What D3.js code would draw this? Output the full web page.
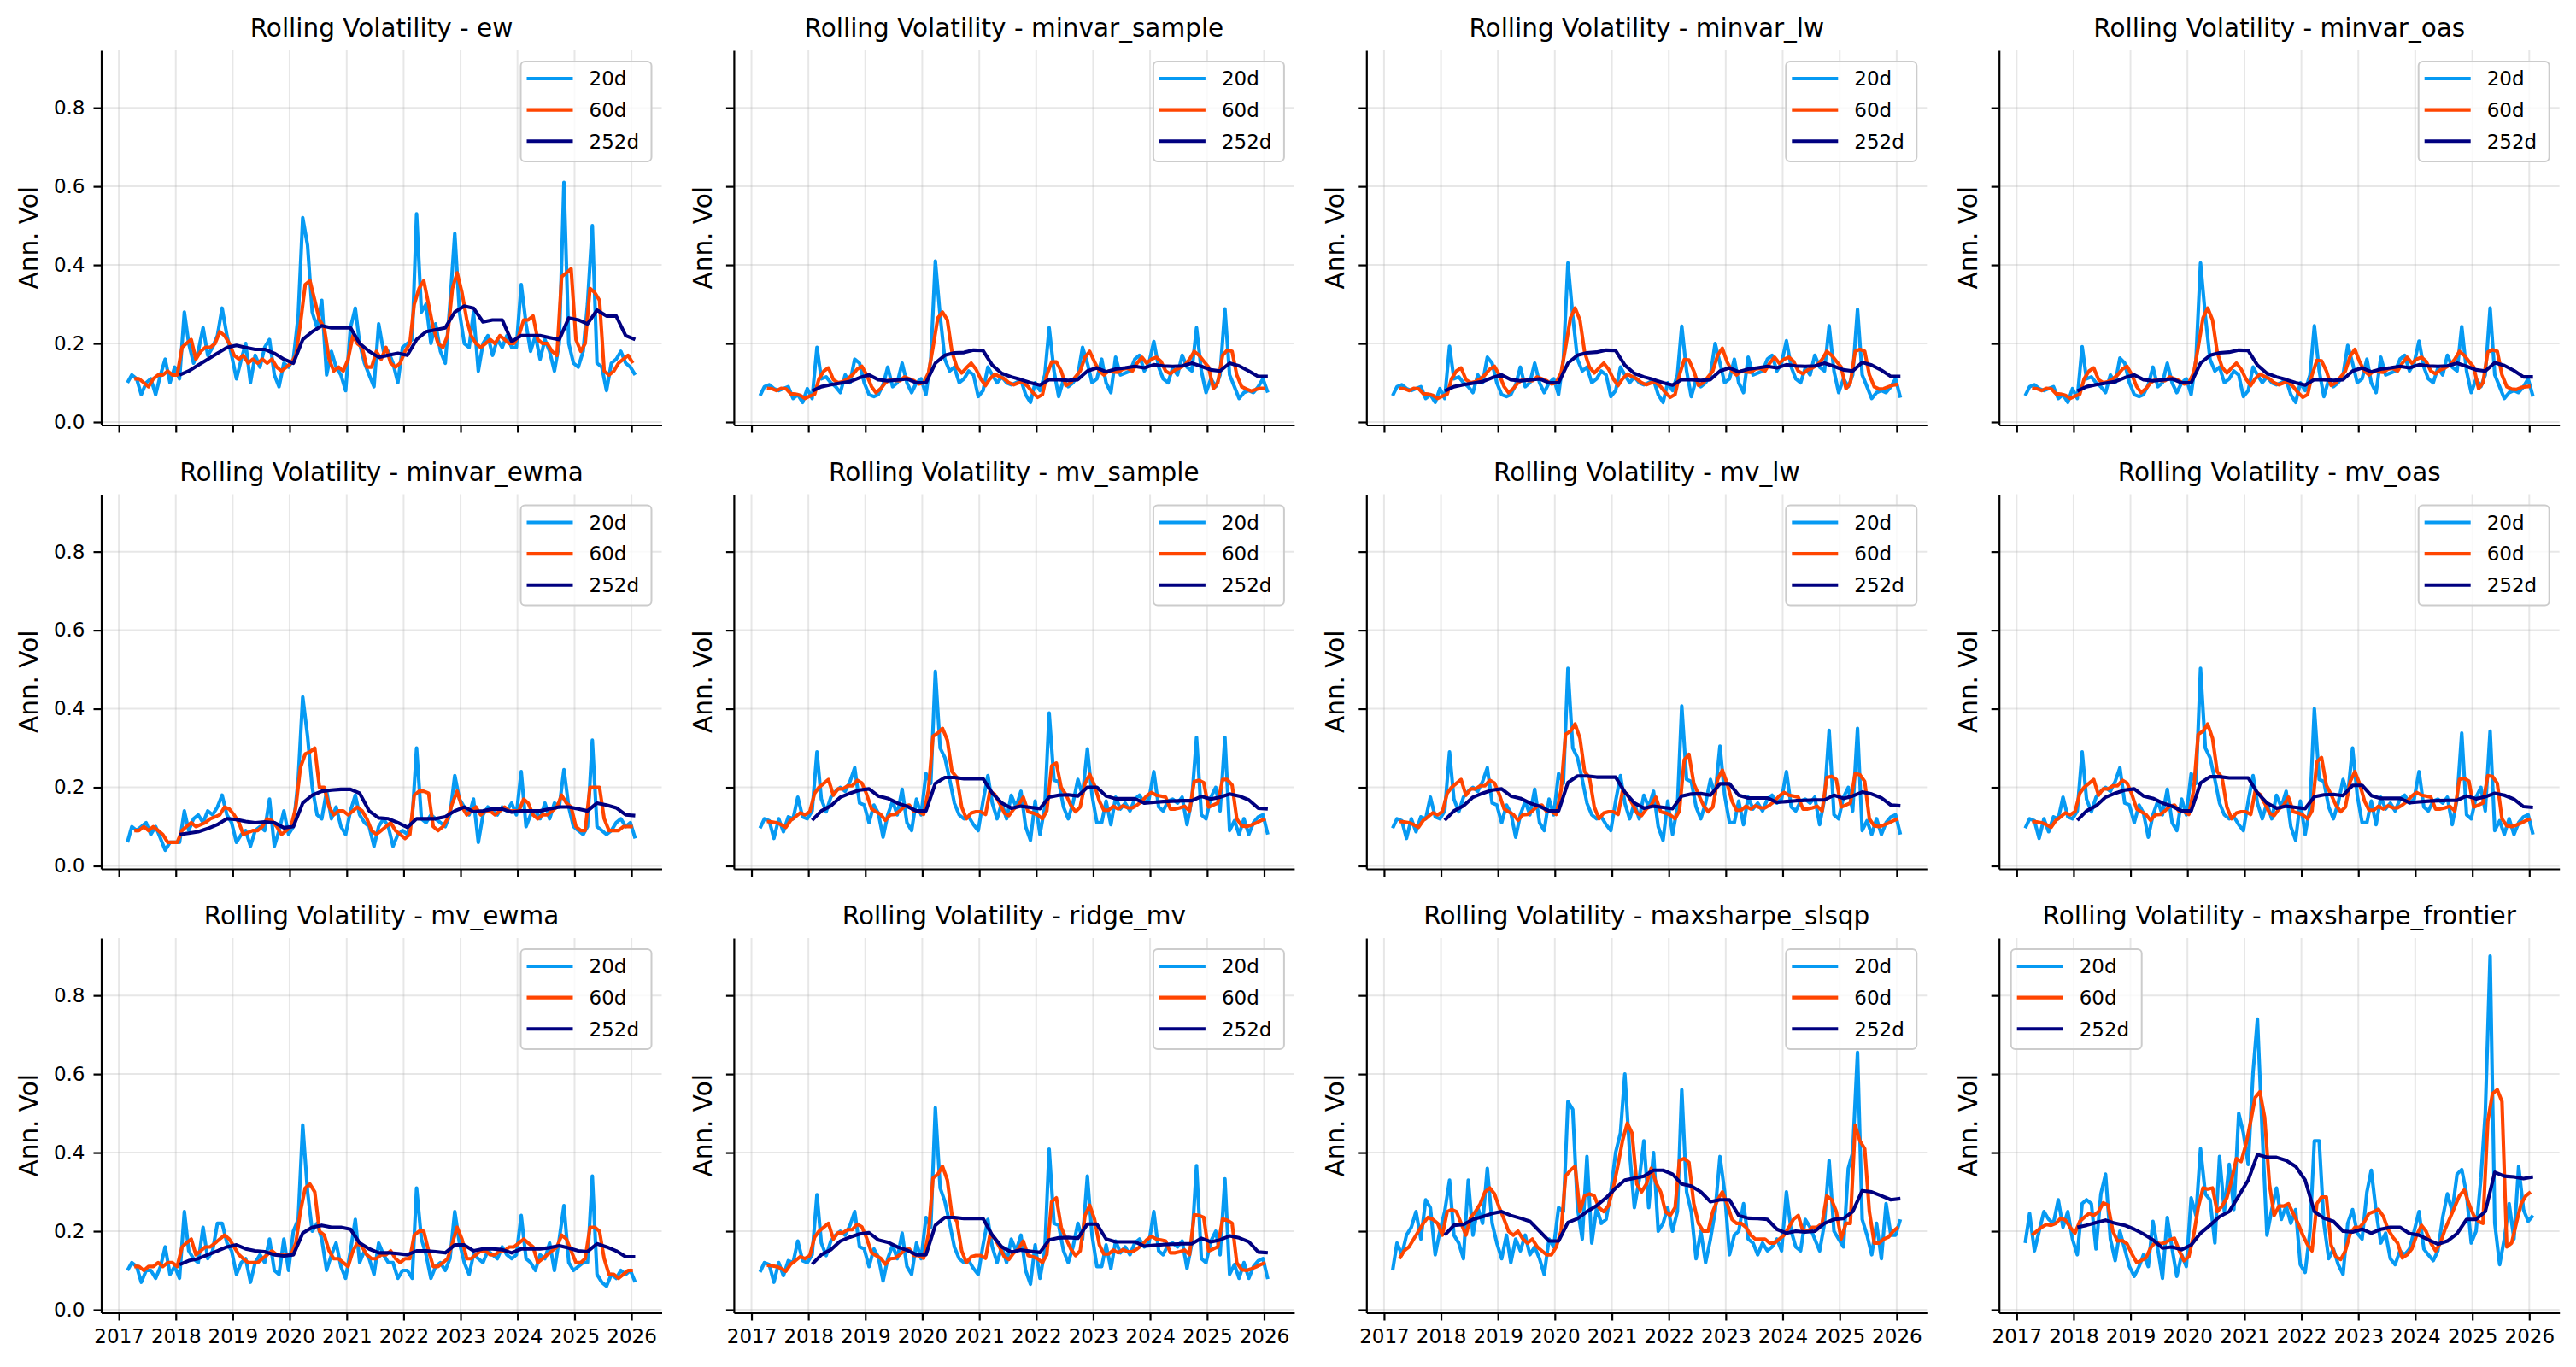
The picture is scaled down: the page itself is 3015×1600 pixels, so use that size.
<!DOCTYPE html>
<html>
<head>
<meta charset="utf-8">
<script src="https://cdn.jsdelivr.net/npm/d3@7"></script>
<style>
  html, body { margin: 0; background: #fff; }
  svg { display: block; }
</style>
</head>
<body>
<svg id="fig" width="3015" height="1600"></svg>
<script>
// Panel names (row by row) and legend entries
const STRATEGIES = ['ew', 'minvar_sample', 'minvar_lw', 'minvar_oas',
                    'minvar_ewma', 'mv_sample', 'mv_lw', 'mv_oas',
                    'mv_ewma', 'ridge_mv', 'maxsharpe_slsqp', 'maxsharpe_frontier'];
const WINDOWS = ['20d', '60d', '252d'];
const Y_TICKS = [0, 0.2, 0.4, 0.6, 0.8];
const X_LIMITS = [new Date(2016, 8, 10), new Date(2026, 6, 14)];
const Y_LIMITS = [-0.0076, 0.946];

// 20d: monthly from Feb 2017 to Jan 2026 (rows = calendar years)
// 60d: monthly from Apr 2017 to Jan 2026
// 252d: every two months from Jan 2018 to Jan 2026
const EW_20 = [
  .10,.12,.11,.07,.10,.11,.07,.12,.16,.10,.14,
  .11,.28,.20,.15,.18,.24,.17,.19,.22,.29,.22,.17,
  .11,.16,.20,.10,.17,.14,.19,.21,.12,.09,.15,.14,
  .16,.27,.52,.45,.28,.24,.31,.12,.18,.14,.12,.08,
  .24,.29,.20,.15,.12,.09,.25,.18,.18,.15,.10,.19,
  .20,.21,.53,.28,.30,.20,.25,.18,.15,.30,.48,.28,
  .20,.19,.28,.13,.20,.22,.17,.21,.19,.22,.19,.19,
  .35,.25,.18,.22,.16,.21,.18,.13,.20,.61,.20,.15,
  .14,.18,.30,.50,.15,.14,.08,.15,.16,.18,.15,.14,
  .12];
const EW_60 = [
  .11,.11,.10,.09,.11,.12,.12,.13,.12,
  .12,.19,.20,.21,.16,.18,.19,.19,.20,.23,.22,.20,
  .17,.16,.17,.15,.16,.15,.16,.15,.16,.14,.13,.14,
  .15,.17,.25,.35,.36,.31,.26,.24,.16,.13,.14,.13,
  .16,.22,.20,.19,.14,.14,.18,.16,.19,.15,.14,.15,
  .18,.20,.30,.34,.36,.30,.24,.20,.19,.22,.34,.38,
  .33,.26,.22,.20,.19,.20,.21,.20,.22,.21,.20,.20,
  .22,.26,.26,.27,.21,.20,.20,.18,.17,.37,.38,.39,
  .21,.18,.20,.34,.33,.31,.13,.12,.13,.15,.16,.17,
  .15];
const EW_252 = [
  .12,.13,.145,.16,.175,.19,
  .195,.19,.185,.185,.175,.16,
  .15,.21,.23,.245,.24,.24,
  .24,.20,.18,.165,.17,.175,
  .17,.21,.23,.235,.24,.28,
  .295,.29,.255,.26,.26,.205,
  .22,.22,.22,.215,.21,.265,
  .26,.25,.285,.27,.27,.22,
  .21];

const MINVAR_SAMPLE_20 = [
  .067,.09,.095,.085,.08,.085,.09,.06,.07,.05,.085,
  .06,.19,.11,.115,.10,.09,.075,.12,.10,.16,.15,.10,
  .07,.065,.07,.095,.14,.09,.10,.15,.10,.075,.10,.11,
  .07,.16,.41,.27,.16,.13,.14,.10,.11,.13,.12,.065,
  .08,.14,.12,.10,.115,.10,.095,.10,.108,.07,.05,.10,
  .08,.12,.24,.13,.065,.108,.09,.10,.12,.19,.15,.10,
  .11,.16,.10,.075,.165,.12,.125,.13,.16,.17,.13,.15,
  .205,.14,.11,.10,.138,.12,.17,.14,.13,.24,.13,.075,
  .11,.09,.12,.288,.12,.09,.06,.075,.08,.075,.09,.11,
  .075];
const MINVAR_SAMPLE_60 = [
  .086,.085,.08,.086,.085,.072,.071,.068,.06,
  .066,.071,.11,.13,.138,.108,.10,.103,.11,.12,.135,.142,
  .12,.09,.075,.085,.10,.108,.106,.105,.115,.11,.105,.097,
  .10,.125,.19,.265,.28,.26,.178,.14,.125,.138,.15,.135,
  .11,.093,.11,.122,.116,.11,.10,.095,.10,.10,.09,.075,
  .063,.07,.12,.153,.153,.13,.093,.10,.115,.13,.165,.18,
  .153,.13,.12,.13,.128,.127,.135,.137,.13,.15,.165,.15,
  .16,.165,.155,.13,.123,.133,.138,.145,.16,.18,.17,.155,
  .14,.085,.10,.17,.183,.18,.12,.09,.084,.079,.083,.086,
  .086];
const MINVAR_SAMPLE_252 = [
  .079,.09,.095,.099,.103,.113,
  .12,.108,.105,.107,.11,.10,
  .10,.15,.17,.176,.177,.183,
  .182,.145,.124,.115,.108,.10,
  .094,.108,.108,.106,.108,.13,
  .138,.128,.135,.138,.142,.138,
  .146,.143,.142,.143,.15,.142,
  .133,.13,.15,.143,.13,.116,
  .116];

const MINVAR_LW_20 = [
  .067,.09,.095,.085,.08,.085,.09,.06,.07,.05,.085,
  .06,.193,.11,.115,.10,.09,.075,.12,.10,.165,.15,.10,
  .07,.065,.07,.095,.14,.09,.10,.15,.10,.075,.10,.11,
  .07,.16,.405,.27,.16,.13,.14,.10,.11,.13,.12,.065,
  .08,.14,.12,.10,.115,.10,.095,.10,.108,.07,.05,.10,
  .08,.12,.244,.13,.065,.108,.09,.10,.12,.20,.15,.10,
  .11,.16,.10,.075,.165,.12,.125,.13,.16,.17,.13,.15,
  .207,.14,.11,.10,.138,.12,.17,.14,.13,.245,.13,.075,
  .11,.09,.12,.287,.12,.09,.06,.075,.08,.075,.09,.11,
  .062];
const MINVAR_LW_60 = [
  .086,.085,.08,.086,.085,.072,.071,.068,.06,
  .066,.071,.11,.13,.138,.108,.10,.103,.11,.12,.135,.142,
  .12,.09,.075,.085,.10,.108,.106,.105,.115,.11,.105,.097,
  .10,.125,.19,.265,.29,.26,.178,.14,.125,.138,.15,.135,
  .11,.093,.11,.122,.116,.11,.10,.095,.10,.10,.09,.075,
  .063,.07,.12,.159,.158,.13,.093,.10,.115,.13,.17,.188,
  .153,.13,.12,.13,.128,.127,.135,.137,.13,.15,.165,.15,
  .16,.165,.155,.13,.123,.133,.138,.145,.16,.18,.17,.155,
  .14,.085,.10,.18,.185,.18,.12,.09,.084,.085,.09,.094,
  .096];
const MINVAR_LW_252 = [
  .079,.09,.095,.099,.103,.113,
  .12,.108,.105,.107,.11,.10,
  .10,.15,.17,.176,.178,.183,
  .182,.145,.124,.115,.108,.10,
  .094,.108,.108,.106,.108,.13,
  .138,.128,.135,.138,.142,.138,
  .146,.143,.142,.143,.15,.142,
  .133,.13,.152,.145,.132,.116,
  .116];

const MINVAR_OAS_20 = [
  .067,.09,.095,.085,.08,.085,.09,.06,.07,.05,.085,
  .06,.192,.11,.115,.10,.09,.075,.12,.10,.163,.15,.10,
  .07,.065,.07,.095,.14,.09,.10,.15,.10,.075,.10,.11,
  .07,.16,.405,.27,.16,.13,.14,.10,.11,.13,.12,.065,
  .08,.14,.12,.10,.115,.10,.095,.10,.108,.07,.05,.10,
  .08,.12,.245,.13,.065,.108,.09,.10,.12,.195,.15,.10,
  .11,.16,.10,.075,.165,.12,.125,.13,.16,.17,.13,.15,
  .206,.14,.11,.10,.138,.12,.17,.14,.13,.243,.13,.075,
  .11,.09,.12,.29,.12,.09,.06,.075,.08,.075,.09,.11,
  .065];
const MINVAR_OAS_60 = [
  .086,.085,.08,.086,.085,.072,.071,.068,.06,
  .066,.071,.11,.13,.138,.108,.10,.103,.11,.12,.135,.142,
  .12,.09,.075,.085,.10,.108,.106,.105,.115,.11,.105,.097,
  .10,.125,.19,.265,.29,.26,.178,.14,.125,.138,.15,.135,
  .11,.093,.11,.122,.116,.11,.10,.095,.10,.10,.09,.075,
  .063,.07,.12,.157,.156,.13,.093,.10,.115,.13,.168,.185,
  .153,.13,.12,.13,.128,.127,.135,.137,.13,.15,.165,.15,
  .16,.165,.155,.13,.123,.133,.138,.145,.16,.18,.17,.155,
  .14,.085,.10,.178,.184,.18,.12,.09,.084,.083,.088,.09,
  .091];
const MINVAR_OAS_252 = [
  .079,.09,.095,.099,.103,.113,
  .12,.108,.105,.107,.11,.10,
  .10,.15,.17,.176,.178,.183,
  .182,.145,.124,.115,.108,.10,
  .094,.108,.108,.106,.108,.13,
  .138,.128,.135,.138,.142,.138,
  .146,.143,.142,.143,.15,.142,
  .133,.13,.151,.144,.131,.115,
  .115];

const MINVAR_EWMA_20 = [
  .06,.10,.09,.10,.11,.08,.10,.07,.04,.06,.06,
  .06,.14,.09,.12,.13,.11,.14,.13,.15,.18,.13,.11,
  .06,.08,.09,.05,.09,.10,.09,.17,.05,.09,.14,.08,
  .10,.22,.43,.33,.20,.13,.12,.19,.12,.15,.10,.08,
  .14,.18,.13,.11,.10,.05,.10,.12,.10,.05,.08,.09,
  .08,.12,.30,.12,.11,.13,.12,.11,.10,.13,.23,.17,
  .15,.13,.17,.06,.13,.15,.14,.13,.15,.14,.16,.13,
  .24,.10,.13,.14,.12,.16,.12,.16,.15,.245,.15,.10,
  .09,.08,.10,.32,.10,.09,.08,.09,.11,.12,.10,.11,
  .07];
const MINVAR_EWMA_60 = [
  .09,.09,.10,.09,.10,.09,.08,.06,.06,
  .06,.09,.10,.11,.10,.105,.11,.12,.125,.13,.15,.145,
  .13,.11,.08,.085,.09,.09,.10,.12,.115,.10,.08,.09,
  .10,.15,.25,.285,.29,.30,.20,.20,.15,.13,.14,.14,
  .13,.14,.15,.14,.12,.09,.08,.09,.10,.11,.09,.08,
  .07,.08,.18,.19,.19,.185,.10,.09,.10,.12,.16,.19,
  .15,.13,.14,.15,.13,.14,.14,.13,.14,.15,.14,.14,
  .14,.17,.16,.13,.12,.13,.13,.14,.15,.18,.16,.15,
  .10,.09,.09,.20,.20,.20,.12,.09,.09,.09,.10,.10,
  .10];
const MINVAR_EWMA_252 = [
  .08,.083,.087,.095,.105,.12,
  .118,.113,.11,.112,.11,.097,
  .10,.16,.18,.19,.193,.195,
  .195,.185,.14,.122,.12,.11,
  .098,.12,.12,.12,.125,.14,
  .15,.138,.14,.145,.145,.137,
  .14,.14,.14,.145,.15,.15,
  .145,.14,.16,.155,.148,.13,
  .128];

const MV_SAMPLE_20 = [
  .096,.12,.115,.07,.12,.087,.125,.12,.175,.125,.12,
  .14,.29,.17,.138,.175,.19,.20,.19,.215,.25,.16,.155,
  .11,.155,.135,.073,.13,.165,.13,.195,.11,.09,.17,.13,
  .235,.21,.495,.30,.276,.22,.16,.13,.12,.125,.105,.09,
  .165,.23,.16,.12,.16,.12,.18,.15,.19,.10,.065,.165,
  .08,.15,.389,.218,.215,.15,.12,.16,.22,.18,.298,.18,
  .11,.11,.165,.105,.175,.145,.16,.14,.17,.18,.16,.17,
  .24,.15,.14,.165,.17,.16,.175,.105,.17,.327,.13,.12,
  .175,.20,.14,.327,.09,.115,.08,.12,.08,.11,.125,.13,
  .08];
const MV_SAMPLE_60 = [
  .113,.112,.11,.105,.098,.116,.125,.135,.13,
  .138,.185,.20,.21,.22,.18,.196,.196,.204,.204,.218,.211,
  .182,.145,.138,.131,.116,.13,.131,.14,.152,.155,.138,.138,
  .131,.193,.33,.338,.35,.32,.24,.225,.15,.12,.135,.138,
  .138,.131,.19,.182,.16,.135,.128,.145,.155,.175,.138,.135,
  .13,.12,.14,.255,.262,.20,.182,.155,.138,.15,.21,.233,
  .205,.165,.142,.142,.152,.145,.153,.148,.148,.155,.165,.178,
  .187,.18,.178,.175,.145,.145,.148,.152,.14,.215,.218,.212,
  .15,.155,.16,.22,.22,.206,.12,.102,.10,.104,.109,.115,
  .12];
const MV_SAMPLE_252 = [
  .116,.14,.153,.175,.185,.193,
  .196,.178,.172,.16,.152,.14,
  .14,.21,.225,.225,.222,.222,
  .222,.185,.16,.147,.152,.149,
  .146,.175,.18,.181,.178,.20,
  .20,.178,.171,.171,.171,.16,
  .162,.164,.165,.166,.166,.177,
  .17,.175,.183,.178,.168,.147,
  .145];

const MV_LW_20 = [
  .096,.12,.115,.07,.12,.087,.125,.12,.175,.125,.12,
  .14,.29,.17,.138,.175,.19,.20,.19,.215,.25,.16,.155,
  .11,.155,.135,.073,.13,.165,.13,.195,.11,.09,.17,.13,
  .235,.21,.503,.30,.276,.22,.16,.13,.12,.125,.105,.09,
  .165,.23,.16,.12,.16,.12,.18,.15,.19,.10,.065,.165,
  .08,.15,.407,.22,.215,.15,.12,.16,.22,.18,.305,.18,
  .11,.11,.165,.105,.175,.145,.16,.14,.17,.18,.16,.17,
  .24,.15,.14,.165,.17,.16,.175,.105,.17,.345,.13,.12,
  .175,.20,.14,.35,.09,.115,.08,.12,.08,.11,.125,.13,
  .08];
const MV_LW_60 = [
  .113,.112,.11,.105,.098,.116,.125,.135,.13,
  .138,.185,.20,.21,.22,.18,.196,.196,.204,.204,.218,.211,
  .182,.145,.138,.131,.116,.13,.131,.14,.152,.155,.138,.138,
  .131,.193,.335,.343,.361,.325,.24,.225,.15,.12,.135,.138,
  .138,.131,.19,.182,.16,.135,.128,.145,.155,.175,.138,.135,
  .13,.12,.14,.27,.284,.21,.182,.155,.138,.15,.22,.244,
  .21,.165,.142,.142,.152,.145,.153,.148,.148,.155,.165,.178,
  .187,.18,.178,.175,.145,.145,.148,.152,.14,.225,.228,.22,
  .15,.155,.16,.235,.232,.215,.12,.102,.10,.104,.109,.115,
  .12];
const MV_LW_252 = [
  .116,.14,.153,.175,.185,.193,
  .196,.178,.172,.16,.152,.14,
  .14,.212,.229,.229,.226,.226,
  .226,.188,.16,.147,.152,.149,
  .146,.178,.183,.184,.18,.209,
  .209,.18,.173,.173,.173,.162,
  .164,.166,.167,.168,.168,.18,
  .172,.178,.188,.183,.173,.155,
  .153];

const MV_OAS_20 = [
  .096,.12,.115,.07,.12,.087,.125,.12,.175,.125,.12,
  .14,.29,.17,.138,.175,.19,.20,.19,.215,.25,.16,.155,
  .11,.155,.135,.073,.13,.165,.13,.195,.11,.09,.17,.13,
  .235,.21,.503,.30,.276,.22,.16,.13,.12,.125,.105,.09,
  .165,.23,.16,.12,.16,.12,.18,.15,.19,.10,.065,.165,
  .08,.15,.40,.22,.215,.15,.12,.16,.22,.18,.30,.18,
  .11,.11,.165,.105,.175,.145,.16,.14,.17,.18,.16,.17,
  .24,.15,.14,.165,.17,.16,.175,.105,.17,.338,.13,.12,
  .175,.20,.14,.343,.09,.115,.08,.12,.08,.11,.125,.13,
  .08];
const MV_OAS_60 = [
  .113,.112,.11,.105,.098,.116,.125,.135,.13,
  .138,.185,.20,.21,.22,.18,.196,.196,.204,.204,.218,.211,
  .182,.145,.138,.131,.116,.13,.131,.14,.152,.155,.138,.138,
  .131,.193,.335,.343,.361,.325,.24,.225,.15,.12,.135,.138,
  .138,.131,.19,.182,.16,.135,.128,.145,.155,.175,.138,.135,
  .13,.12,.14,.265,.276,.205,.182,.155,.138,.15,.215,.24,
  .208,.165,.142,.142,.152,.145,.153,.148,.148,.155,.165,.178,
  .187,.18,.178,.175,.145,.145,.148,.152,.14,.22,.223,.216,
  .15,.155,.16,.23,.228,.21,.12,.102,.10,.104,.109,.115,
  .12];
const MV_OAS_252 = [
  .116,.14,.153,.175,.185,.193,
  .196,.178,.172,.16,.152,.14,
  .14,.211,.227,.227,.224,.224,
  .224,.186,.16,.147,.152,.149,
  .146,.176,.181,.182,.179,.205,
  .205,.179,.172,.172,.172,.161,
  .163,.165,.166,.167,.167,.178,
  .171,.176,.185,.18,.17,.151,
  .149];

const MV_EWMA_20 = [
  .10,.12,.11,.07,.10,.10,.08,.11,.16,.09,.11,
  .08,.25,.15,.13,.12,.21,.13,.15,.22,.22,.17,.15,
  .09,.12,.13,.07,.12,.14,.12,.18,.10,.09,.18,.10,
  .20,.23,.47,.30,.20,.22,.18,.10,.14,.17,.11,.08,
  .15,.23,.12,.15,.13,.09,.17,.14,.12,.12,.08,.10,
  .10,.08,.31,.18,.14,.08,.11,.12,.10,.13,.25,.17,
  .12,.09,.14,.13,.12,.15,.14,.13,.16,.14,.13,.14,
  .24,.13,.12,.10,.14,.13,.17,.10,.18,.265,.12,.10,
  .11,.12,.12,.34,.09,.07,.06,.09,.08,.10,.09,.10,
  .07];
const MV_EWMA_60 = [
  .11,.11,.10,.11,.11,.12,.11,.12,.12,
  .11,.16,.17,.18,.14,.15,.16,.16,.17,.18,.19,.18,
  .16,.14,.13,.12,.12,.12,.13,.14,.15,.14,.14,.14,
  .14,.17,.25,.31,.32,.30,.20,.19,.15,.13,.13,.12,
  .11,.15,.17,.16,.14,.13,.13,.14,.14,.15,.13,.12,
  .13,.13,.19,.20,.20,.15,.11,.11,.12,.13,.17,.21,
  .18,.13,.13,.14,.15,.15,.14,.14,.15,.15,.16,.16,
  .17,.18,.17,.16,.12,.13,.14,.15,.16,.19,.18,.15,
  .12,.12,.13,.21,.21,.20,.13,.09,.09,.08,.09,.10,
  .10];
const MV_EWMA_252 = [
  .115,.125,.13,.14,.15,.16,
  .165,.155,.15,.148,.14,.137,
  .14,.195,.21,.215,.21,.21,
  .205,.17,.155,.145,.145,.143,
  .14,.15,.15,.148,.145,.165,
  .165,.15,.155,.155,.153,.145,
  .155,.155,.155,.158,.163,.157,
  .15,.148,.168,.16,.15,.135,
  .135];

const RIDGE_MV_20 = [
  .096,.12,.115,.07,.12,.087,.125,.12,.175,.125,.12,
  .14,.293,.17,.138,.175,.19,.20,.19,.215,.25,.16,.155,
  .11,.155,.135,.073,.13,.165,.13,.195,.11,.09,.17,.13,
  .235,.21,.514,.31,.276,.22,.16,.13,.12,.125,.105,.09,
  .165,.23,.16,.12,.16,.12,.18,.15,.19,.10,.065,.165,
  .08,.15,.409,.22,.215,.15,.12,.16,.22,.18,.34,.19,
  .11,.11,.165,.105,.175,.145,.16,.14,.17,.18,.16,.17,
  .25,.15,.14,.165,.17,.16,.175,.105,.17,.367,.13,.12,
  .175,.20,.14,.333,.09,.115,.08,.12,.08,.11,.125,.13,
  .078];
const RIDGE_MV_60 = [
  .113,.112,.11,.105,.098,.116,.125,.135,.13,
  .138,.185,.20,.21,.22,.18,.196,.196,.204,.204,.218,.211,
  .182,.145,.138,.131,.116,.13,.131,.14,.152,.155,.138,.138,
  .131,.193,.335,.345,.365,.33,.24,.225,.15,.12,.135,.138,
  .138,.131,.19,.182,.16,.135,.128,.145,.155,.175,.138,.135,
  .13,.12,.14,.275,.285,.21,.182,.155,.138,.15,.24,.266,
  .23,.165,.142,.142,.152,.145,.153,.148,.148,.155,.165,.178,
  .187,.18,.178,.175,.145,.145,.148,.152,.14,.242,.24,.235,
  .15,.155,.16,.231,.228,.22,.12,.102,.10,.104,.109,.115,
  .12];
const RIDGE_MV_252 = [
  .116,.14,.153,.175,.185,.193,
  .196,.178,.172,.16,.152,.14,
  .14,.215,.235,.235,.232,.232,
  .232,.19,.16,.147,.152,.149,
  .146,.178,.183,.184,.182,.218,
  .218,.18,.173,.173,.173,.162,
  .164,.166,.167,.168,.168,.182,
  .173,.178,.188,.183,.173,.147,
  .145];

const SLSQP_20 = [
  .10,.17,.14,.19,.21,.25,.18,.28,.26,.14,.20,
  .25,.33,.19,.17,.13,.33,.19,.26,.22,.36,.22,.17,
  .13,.19,.12,.18,.15,.19,.14,.16,.13,.09,.18,.16,
  .26,.25,.53,.51,.26,.18,.39,.17,.26,.22,.23,.30,
  .40,.45,.60,.40,.26,.33,.43,.26,.40,.20,.22,.26,
  .20,.25,.56,.30,.25,.13,.20,.12,.18,.25,.39,.30,
  .14,.19,.20,.27,.18,.17,.14,.17,.15,.16,.18,.15,
  .30,.20,.16,.15,.23,.21,.18,.15,.22,.38,.20,.18,
  .16,.36,.40,.655,.23,.19,.14,.22,.13,.27,.19,.19,
  .23];
const SLSQP_60 = [
  .13,.15,.16,.18,.20,.22,.235,.23,.22,
  .19,.25,.255,.25,.22,.19,.235,.25,.27,.30,.31,.295,
  .26,.23,.20,.19,.20,.18,.17,.18,.16,.15,.14,.14,
  .16,.20,.34,.355,.365,.25,.29,.295,.29,.26,.25,.265,
  .31,.37,.43,.475,.45,.32,.30,.32,.36,.325,.30,.25,
  .24,.26,.38,.385,.375,.27,.22,.20,.20,.25,.28,.30,
  .27,.23,.22,.22,.21,.19,.18,.18,.18,.17,.17,.18,
  .19,.21,.23,.24,.20,.20,.21,.21,.22,.29,.28,.25,
  .18,.22,.22,.47,.43,.41,.25,.17,.17,.18,.185,.20,
  .21];
const SLSQP_252 = [
  .19,.215,.217,.23,.237,.245,
  .25,.24,.233,.225,.20,.175,
  .175,.222,.232,.25,.265,.285,
  .31,.33,.335,.34,.355,.355,
  .345,.32,.315,.30,.275,.28,
  .28,.24,.233,.232,.23,.205,
  .195,.20,.198,.20,.22,.23,
  .232,.25,.303,.30,.29,.28,
  .283];

const FRONTIER_20 = [
  .17,.245,.15,.20,.25,.23,.22,.28,.21,.25,.18,
  .14,.27,.28,.27,.155,.295,.345,.18,.125,.20,.155,.11,
  .085,.11,.14,.11,.225,.155,.08,.235,.155,.085,.14,.11,
  .285,.24,.41,.295,.28,.17,.39,.25,.37,.255,.50,.45,
  .37,.605,.74,.45,.19,.255,.31,.23,.265,.22,.255,.115,
  .095,.20,.43,.43,.22,.13,.155,.115,.09,.22,.255,.195,
  .18,.30,.355,.25,.17,.195,.13,.115,.15,.14,.155,.20,
  .25,.155,.14,.125,.15,.235,.295,.25,.345,.357,.295,.17,
  .20,.335,.50,.90,.22,.115,.18,.27,.18,.365,.255,.225,
  .24];
const FRONTIER_60 = [
  .19,.20,.21,.217,.215,.22,.233,.228,.21,
  .195,.225,.235,.245,.24,.25,.272,.266,.20,.175,.176,.168,
  .142,.12,.125,.132,.158,.172,.168,.17,.178,.182,.15,.125,
  .135,.19,.26,.31,.307,.31,.25,.264,.285,.33,.385,.377,
  .42,.48,.54,.555,.49,.32,.24,.264,.264,.27,.245,.22,
  .19,.165,.15,.27,.287,.287,.165,.135,.128,.15,.194,.21,
  .21,.225,.245,.25,.256,.238,.205,.185,.17,.132,.14,.155,
  .19,.215,.20,.17,.15,.17,.205,.233,.262,.29,.305,.27,
  .24,.225,.22,.48,.55,.56,.53,.16,.17,.22,.27,.29,
  .30];
const FRONTIER_252 = [
  .21,.215,.222,.228,.22,.215,
  .205,.193,.178,.157,.16,.153,
  .165,.195,.215,.237,.25,.29,
  .33,.395,.388,.388,.38,.365,
  .33,.25,.233,.225,.20,.198,
  .205,.195,.205,.21,.21,.194,
  .19,.178,.167,.175,.194,.23,
  .23,.25,.35,.34,.338,.334,
  .338];

// Table pairing each panel with its arrays
const PANEL_DATA = [
  [EW_20, EW_60, EW_252],
  [MINVAR_SAMPLE_20, MINVAR_SAMPLE_60, MINVAR_SAMPLE_252],
  [MINVAR_LW_20, MINVAR_LW_60, MINVAR_LW_252],
  [MINVAR_OAS_20, MINVAR_OAS_60, MINVAR_OAS_252],
  [MINVAR_EWMA_20, MINVAR_EWMA_60, MINVAR_EWMA_252],
  [MV_SAMPLE_20, MV_SAMPLE_60, MV_SAMPLE_252],
  [MV_LW_20, MV_LW_60, MV_LW_252],
  [MV_OAS_20, MV_OAS_60, MV_OAS_252],
  [MV_EWMA_20, MV_EWMA_60, MV_EWMA_252],
  [RIDGE_MV_20, RIDGE_MV_60, RIDGE_MV_252],
  [SLSQP_20, SLSQP_60, SLSQP_252],
  [FRONTIER_20, FRONTIER_60, FRONTIER_252],
];

// ---------------------------------------------------------------
const FONT = '"DejaVu Sans", sans-serif';
const COLORS = { '20d': '#069af3', '60d': '#ff4500', '252d': '#000080' };
// sampling of each window: [year, month index, day, step in months]
const SAMPLING = { '20d': [2017, 1, 25, 1], '60d': [2017, 3, 10, 1], '252d': [2018, 0, 25, 2] };
const LEFT = 118.5, TOP = 59;
const PW = 656, PH = 438.5, COL_STEP = 740.4, ROW_STEP = 519.5;
const LINE_W = 4.1;

const svg = d3.select('#fig');
svg.append('rect').attr('width', 3015).attr('height', 1600).attr('fill', '#fff');

function toPoints(key, vals) {
  const [y0, m0, day, step] = SAMPLING[key];
  return vals.map((v, i) => ({ date: new Date(y0, m0 + i * step, day), v }));
}

const x = d3.scaleTime().domain(X_LIMITS).range([0, PW]);
const y = d3.scaleLinear().domain(Y_LIMITS).range([PH, 0]);
const line = d3.line().x(d => x(d.date)).y(d => y(d.v));
const yearTicks = x.ticks(d3.timeYear.every(1));

STRATEGIES.forEach((name, idx) => {
  const col = idx % 4, row = Math.floor(idx / 4);
  const g = svg.append('g')
    .attr('transform', `translate(${LEFT + col * COL_STEP},${TOP + row * ROW_STEP})`);

  // Grid
  const grid = g.append('g')
    .attr('stroke', '#b0b0b0').attr('stroke-opacity', 0.3).attr('stroke-width', 2);
  grid.selectAll('.gx').data(yearTicks).join('line').attr('class', 'gx')
    .attr('x1', d => x(d)).attr('x2', d => x(d)).attr('y1', 0).attr('y2', PH);
  grid.selectAll('.gy').data(Y_TICKS).join('line').attr('class', 'gy')
    .attr('x1', 0).attr('x2', PW).attr('y1', d => y(d)).attr('y2', d => y(d));

  // Series
  WINDOWS.forEach((w, k) => {
    g.append('path')
      .datum(toPoints(w, PANEL_DATA[idx][k]))
      .attr('d', line)
      .attr('fill', 'none')
      .attr('stroke', COLORS[w])
      .attr('stroke-width', LINE_W)
      .attr('stroke-linejoin', 'round');
  });

  // Axes
  const ya = g.append('g').call(
    d3.axisLeft(y).tickValues(Y_TICKS)
      .tickFormat(col === 0 ? d3.format('.1f') : () => '')
      .tickSize(9).tickPadding(10).tickSizeOuter(0));
  const xa = g.append('g').attr('transform', `translate(0,${PH})`).call(
    d3.axisBottom(x).ticks(d3.timeYear.every(1))
      .tickFormat(row === 2 ? d3.timeFormat('%Y') : () => '')
      .tickSize(9).tickPadding(10).tickSizeOuter(0));
  [ya, xa].forEach(a => {
    a.attr('font-family', FONT).attr('font-size', 23);
    a.select('.domain').attr('stroke', '#000').attr('stroke-width', 2.2);
    a.selectAll('.tick line').attr('stroke', '#000').attr('stroke-width', 2.2);
    a.selectAll('.tick text').attr('fill', '#000');
  });

  // Title and y label
  g.append('text')
    .attr('x', PW / 2).attr('y', -16)
    .attr('text-anchor', 'middle')
    .attr('font-family', FONT).attr('font-size', 29.5)
    .text(`Rolling Volatility - ${name}`);
  g.append('text')
    .attr('transform', `translate(${col === 0 ? -75 : -26},${PH / 2}) rotate(-90)`)
    .attr('text-anchor', 'middle')
    .attr('font-family', FONT).attr('font-size', 29.5)
    .text('Ann. Vol');

  // Legend
  const lx = name === 'maxsharpe_frontier' ? 14 : PW - 12 - 153;
  const lg = g.append('g').attr('transform', `translate(${lx},13)`);
  lg.append('rect')
    .attr('width', 153).attr('height', 117).attr('rx', 5)
    .attr('fill', '#fff').attr('fill-opacity', 0.8)
    .attr('stroke', '#cccccc').attr('stroke-width', 2);
  WINDOWS.forEach((w, i) => {
    const cy = 20 + i * 36.65;
    lg.append('line')
      .attr('x1', 7).attr('x2', 61).attr('y1', cy).attr('y2', cy)
      .attr('stroke', COLORS[w]).attr('stroke-width', LINE_W);
    lg.append('text')
      .attr('x', 80).attr('y', cy + 8.3)
      .attr('font-family', FONT).attr('font-size', 23)
      .text(w);
  });
});
</script>
</body>
</html>
